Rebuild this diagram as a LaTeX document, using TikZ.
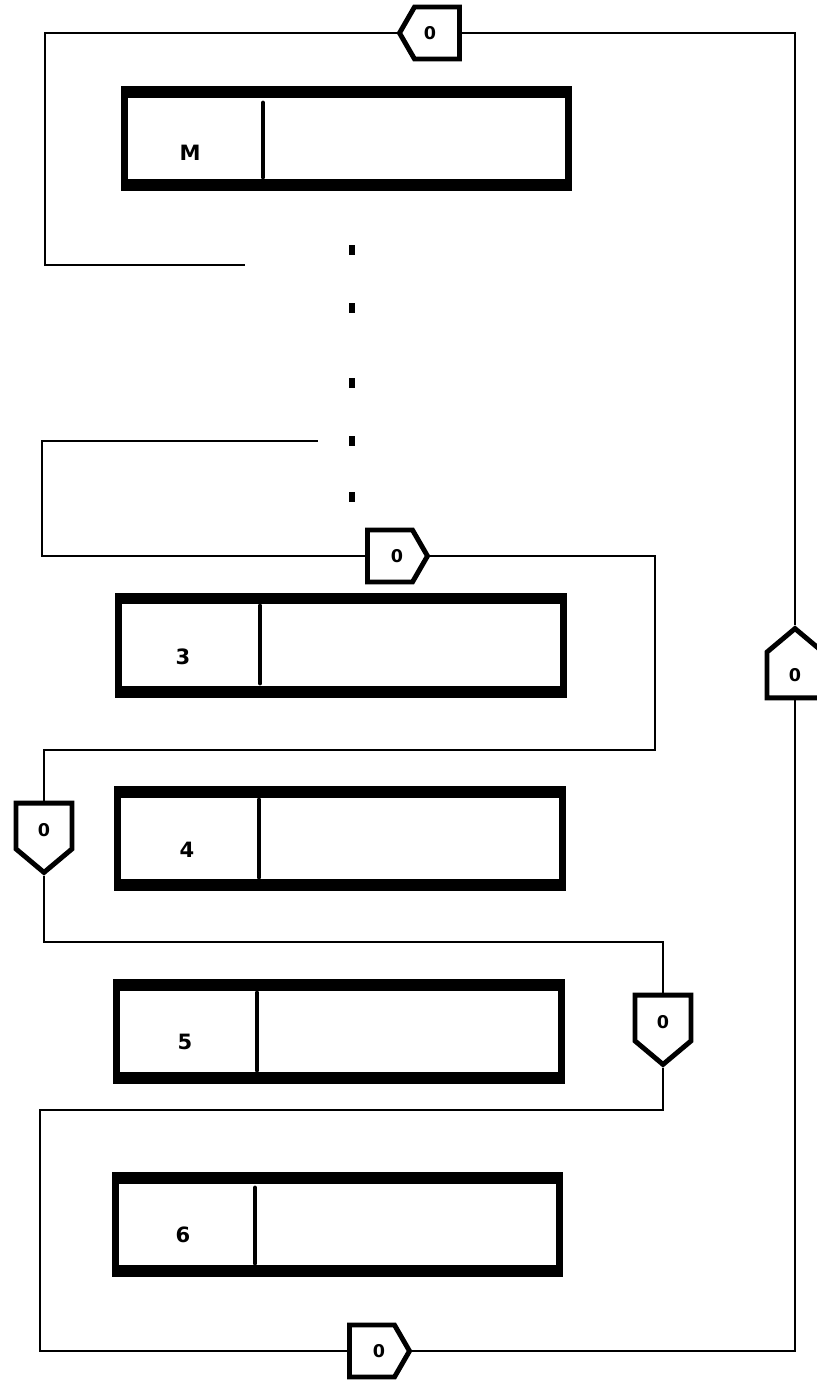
\documentclass[tikz,border=0pt]{standalone}
\usepackage{fontspec}
\usepackage{tikz}
\usetikzlibrary{shapes.symbols}
\newfontfamily\tagfont{DejaVu Sans}
% zero digit moved onto the middle of the whole gate
\newcommand{\gzh}[1]{\makebox[0pt]{\kern#1{}0}}
\newcommand{\gzv}[1]{\raisebox{#1}[0pt][0pt]{0}}

\tikzset{
  wire/.style={line width=0.8pt},
  regbox/.style={draw,line width=4pt,minimum width=8.9cm,minimum height=1.96cm,inner sep=0pt,
    path picture={
      \fill (path picture bounding box.north west) rectangle ([yshift=-4.8pt]path picture bounding box.north east);
      \fill (path picture bounding box.south west) rectangle ([yshift=4.8pt]path picture bounding box.south east);}},
  divider/.style={line width=2.8pt,line cap=round},
  tag/.style={font=\fontsize{12}{14}\selectfont\tagfont\bfseries,inner sep=0pt},
  gate/.style={draw,signal,line width=2.8pt,inner sep=0pt,
    font=\fontsize{10}{12}\selectfont\tagfont\bfseries},
  gateh/.style={gate,signal pointer angle=120,minimum width=1.2cm,minimum height=1.04cm},
  gatev/.style={gate,signal pointer angle=100,minimum width=1.12cm,minimum height=1.02cm},
  dot/.style={fill,minimum width=0.12cm,minimum height=0.2cm,inner sep=0pt}
}

\begin{document}
\begin{tikzpicture}[x=0.02cm,y=-0.02cm]
  \useasboundingbox (0,0) rectangle (817,1380);

  % registers
  \node[regbox] (bM) at (346.5,138.5) {};
  \node[regbox] (b3) at (341,645) {};
  \node[regbox] (b4) at (340,838.5) {};
  \node[regbox] (b5) at (339,1031.5) {};
  \node[regbox] (b6) at (337.5,1224.5) {};
  \draw[divider] (263,103) -- (263,177);
  \draw[divider] (260,606) -- (260,683);
  \draw[divider] (259,800) -- (259,877);
  \draw[divider] (257,993) -- (257,1070);
  \draw[divider] (255,1188) -- (255,1263);
  \node[tag] (lM) at (190,153) {M};
  \node[tag] (l3) at (183,657) {3};
  \node[tag] (l4) at (187,850) {4};
  \node[tag] (l5) at (185,1042) {5};
  \node[tag] (l6) at (183,1235) {6};

  % skipped registers
  \foreach \y [count=\i] in {250,308,383,441,497}
    \node[dot] (d\i) at (352,\y) {};

  % gates
  \node[gateh,signal to=west] (p1) at (437,33) {\gzh{-0.28cm}};
  \node[gateh,signal to=east] (p2) at (390,556) {\gzh{0.28cm}};
  \node[gatev,signal to=north] (p3) at (795,675) {0};
  \node[gatev,signal to=south] (p4) at (44,826) {\gzv{-0.21cm}};
  \node[gatev,signal to=south] (p5) at (663,1018) {\gzv{-0.21cm}};
  \node[gateh,signal to=east] (p6) at (372,1351) {\gzh{0.28cm}};

  \coordinate (e1) at (245,265);
  \coordinate (e2) at (318,441);

  % wiring
  \draw[wire] (p1.west) -| (45,265) -- (e1);
  \draw[wire] (p1.east) -| (p3.north);
  \draw[wire] (p3.south) |- (p6.east);
  \draw[wire] (p6.west) -| (40,1110) -| (p5.south);
  \draw[wire] (p5.north) |- (44,942) -- (p4.south);
  \draw[wire] (p4.north) |- (655,750) |- (p2.east);
  \draw[wire] (p2.west) -| (42,441) -- (e2);
\end{tikzpicture}
\end{document}
